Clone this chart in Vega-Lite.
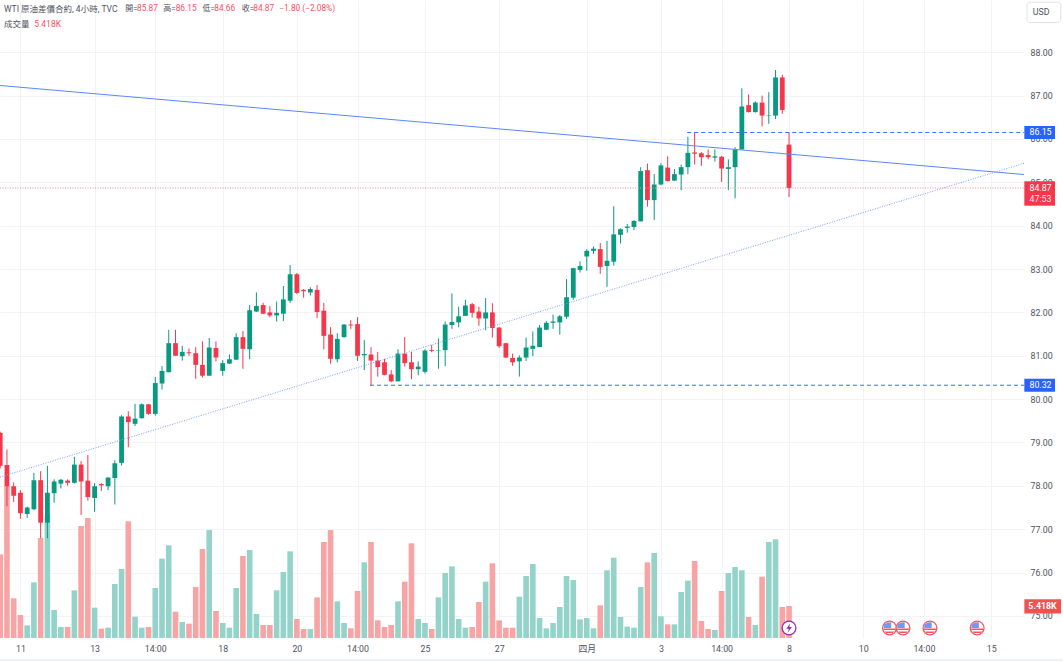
{"$schema":"https://vega.github.io/schema/vega-lite/v6.json","width":1024,"height":638,"autosize":{"type":"none"},"padding":{"left":0,"top":0,"right":39,"bottom":23},"background":"#ffffff","config":{"view":{"stroke":null},"scale":{"continuousPadding":0},"text":{"font":"Roboto, 'Noto Sans CJK TC'"}},
"data":{"values":[{}]},
"datasets":{"bars":[
{"i":0,"open":79.22,"high":79.25,"low":78.40,"close":78.46,"volume":14.16},
{"i":1,"open":78.48,"high":78.84,"low":77.53,"close":77.99,"volume":25.73},
{"i":2,"open":77.99,"high":78.08,"low":77.63,"close":77.77,"volume":6.72},
{"i":3,"open":77.84,"high":77.90,"low":77.24,"close":77.37,"volume":3.89},
{"i":4,"open":77.35,"high":77.52,"low":77.26,"close":77.50,"volume":2.14},
{"i":5,"open":77.46,"high":78.30,"low":77.44,"close":78.13,"volume":9.42},
{"i":6,"open":78.13,"high":78.34,"low":76.79,"close":77.15,"volume":16.93},
{"i":7,"open":77.15,"high":78.46,"low":76.79,"close":77.84,"volume":20.82},
{"i":8,"open":77.83,"high":78.15,"low":77.61,"close":78.10,"volume":4.74},
{"i":9,"open":78.05,"high":78.16,"low":77.94,"close":78.14,"volume":1.86},
{"i":10,"open":78.12,"high":78.15,"low":78.00,"close":78.07,"volume":1.86},
{"i":11,"open":78.07,"high":78.67,"low":78.05,"close":78.49,"volume":8.07},
{"i":12,"open":78.49,"high":78.57,"low":77.33,"close":78.10,"volume":18.96},
{"i":13,"open":78.12,"high":78.71,"low":77.66,"close":77.74,"volume":20.32},
{"i":14,"open":77.72,"high":78.06,"low":77.40,"close":77.99,"volume":5.14},
{"i":15,"open":78.04,"high":78.06,"low":77.88,"close":78.01,"volume":1.58},
{"i":16,"open":77.99,"high":78.20,"low":77.90,"close":78.19,"volume":1.75},
{"i":17,"open":78.18,"high":78.59,"low":77.57,"close":78.52,"volume":9.14},
{"i":18,"open":78.53,"high":79.63,"low":78.47,"close":79.60,"volume":11.68},
{"i":19,"open":79.60,"high":79.72,"low":78.89,"close":79.47,"volume":19.75},
{"i":20,"open":79.43,"high":79.89,"low":79.38,"close":79.55,"volume":3.61},
{"i":21,"open":79.56,"high":79.90,"low":79.55,"close":79.88,"volume":1.75},
{"i":22,"open":79.88,"high":79.89,"low":79.64,"close":79.66,"volume":1.86},
{"i":23,"open":79.66,"high":80.51,"low":79.62,"close":80.37,"volume":8.47},
{"i":24,"open":80.36,"high":80.76,"low":80.22,"close":80.65,"volume":13.43},
{"i":25,"open":80.62,"high":81.60,"low":80.62,"close":81.29,"volume":15.69},
{"i":26,"open":81.29,"high":81.60,"low":81.00,"close":81.00,"volume":4.46},
{"i":27,"open":80.99,"high":81.23,"low":80.89,"close":81.09,"volume":2.71},
{"i":28,"open":81.08,"high":81.17,"low":81.00,"close":81.06,"volume":2.43},
{"i":29,"open":81.06,"high":81.20,"low":80.47,"close":80.79,"volume":8.63},
{"i":30,"open":80.79,"high":81.33,"low":80.50,"close":80.54,"volume":15.07},
{"i":31,"open":80.54,"high":81.41,"low":80.54,"close":81.19,"volume":18.28},
{"i":32,"open":81.18,"high":81.33,"low":80.87,"close":80.96,"volume":4.57},
{"i":33,"open":80.65,"high":80.90,"low":80.54,"close":80.83,"volume":2.54},
{"i":34,"open":80.82,"high":81.03,"low":80.81,"close":80.92,"volume":1.75},
{"i":35,"open":80.91,"high":81.52,"low":80.90,"close":81.43,"volume":8.47},
{"i":36,"open":81.43,"high":81.57,"low":80.70,"close":81.16,"volume":13.88},
{"i":37,"open":81.15,"high":82.17,"low":80.92,"close":82.05,"volume":14.90},
{"i":38,"open":82.02,"high":82.46,"low":82.01,"close":82.15,"volume":4.06},
{"i":39,"open":82.17,"high":82.22,"low":81.96,"close":81.97,"volume":2.20},
{"i":40,"open":82.00,"high":82.15,"low":81.89,"close":81.93,"volume":2.20},
{"i":41,"open":81.93,"high":82.25,"low":81.79,"close":81.99,"volume":8.07},
{"i":42,"open":81.97,"high":82.61,"low":81.80,"close":82.30,"volume":11.17},
{"i":43,"open":82.27,"high":83.09,"low":82.22,"close":82.88,"volume":14.67},
{"i":44,"open":82.88,"high":82.91,"low":82.42,"close":82.45,"volume":3.22},
{"i":45,"open":82.52,"high":82.54,"low":82.34,"close":82.49,"volume":1.52},
{"i":46,"open":82.46,"high":82.58,"low":82.39,"close":82.54,"volume":1.52},
{"i":47,"open":82.52,"high":82.63,"low":81.87,"close":82.01,"volume":6.88},
{"i":48,"open":82.04,"high":82.22,"low":81.15,"close":81.46,"volume":16.25},
{"i":49,"open":81.49,"high":81.66,"low":80.82,"close":80.93,"volume":18.28},
{"i":50,"open":80.92,"high":81.52,"low":80.85,"close":81.39,"volume":6.21},
{"i":51,"open":81.43,"high":81.73,"low":81.42,"close":81.72,"volume":2.54},
{"i":52,"open":81.72,"high":81.82,"low":81.62,"close":81.70,"volume":1.64},
{"i":53,"open":81.73,"high":81.89,"low":80.88,"close":81.00,"volume":7.96},
{"i":54,"open":81.01,"high":81.36,"low":80.67,"close":81.04,"volume":12.81},
{"i":55,"open":81.03,"high":81.20,"low":80.31,"close":80.89,"volume":16.25},
{"i":56,"open":80.89,"high":81.09,"low":80.52,"close":80.74,"volume":2.99},
{"i":57,"open":80.85,"high":80.93,"low":80.55,"close":80.56,"volume":1.86},
{"i":58,"open":80.57,"high":80.67,"low":80.39,"close":80.41,"volume":2.20},
{"i":59,"open":80.41,"high":81.15,"low":80.41,"close":81.05,"volume":6.21},
{"i":60,"open":81.05,"high":81.43,"low":80.75,"close":80.83,"volume":9.54},
{"i":61,"open":80.85,"high":81.09,"low":80.46,"close":80.69,"volume":16.03},
{"i":62,"open":80.69,"high":80.87,"low":80.55,"close":80.75,"volume":3.22},
{"i":63,"open":80.63,"high":81.15,"low":80.59,"close":81.12,"volume":2.54},
{"i":64,"open":81.13,"high":81.25,"low":81.08,"close":81.11,"volume":1.52},
{"i":65,"open":81.12,"high":81.40,"low":80.70,"close":81.13,"volume":6.88},
{"i":66,"open":81.13,"high":81.79,"low":80.76,"close":81.72,"volume":11.00},
{"i":67,"open":81.71,"high":82.44,"low":81.62,"close":81.78,"volume":12.13},
{"i":68,"open":81.77,"high":82.13,"low":81.66,"close":81.91,"volume":3.22},
{"i":69,"open":81.92,"high":82.29,"low":81.92,"close":82.16,"volume":1.75},
{"i":70,"open":82.19,"high":82.22,"low":81.88,"close":81.99,"volume":1.86},
{"i":71,"open":82.02,"high":82.13,"low":81.69,"close":81.86,"volume":6.09},
{"i":72,"open":81.86,"high":82.33,"low":81.59,"close":82.00,"volume":9.54},
{"i":73,"open":82.00,"high":82.21,"low":81.42,"close":81.64,"volume":12.64},
{"i":74,"open":81.65,"high":81.66,"low":81.18,"close":81.22,"volume":2.99},
{"i":75,"open":81.29,"high":81.30,"low":80.95,"close":80.96,"volume":1.75},
{"i":76,"open":80.95,"high":81.05,"low":80.77,"close":80.85,"volume":1.75},
{"i":77,"open":80.87,"high":81.01,"low":80.52,"close":80.96,"volume":7.00},
{"i":78,"open":80.96,"high":81.42,"low":80.88,"close":81.19,"volume":10.50},
{"i":79,"open":81.16,"high":81.56,"low":80.99,"close":81.23,"volume":12.53},
{"i":80,"open":81.20,"high":81.71,"low":81.20,"close":81.65,"volume":3.39},
{"i":81,"open":81.60,"high":81.80,"low":81.59,"close":81.76,"volume":1.64},
{"i":82,"open":81.76,"high":81.95,"low":81.62,"close":81.79,"volume":2.54},
{"i":83,"open":81.77,"high":81.94,"low":81.49,"close":81.91,"volume":5.25},
{"i":84,"open":81.90,"high":82.77,"low":81.85,"close":82.35,"volume":10.50},
{"i":85,"open":82.34,"high":83.03,"low":82.29,"close":83.02,"volume":9.82},
{"i":86,"open":82.98,"high":83.18,"low":82.92,"close":83.07,"volume":3.16},
{"i":87,"open":83.29,"high":83.46,"low":82.96,"close":83.42,"volume":3.39},
{"i":88,"open":83.42,"high":83.52,"low":83.35,"close":83.47,"volume":1.64},
{"i":89,"open":83.46,"high":83.60,"low":82.89,"close":83.05,"volume":5.53},
{"i":90,"open":83.07,"high":83.65,"low":82.59,"close":83.19,"volume":11.46},
{"i":91,"open":83.17,"high":84.45,"low":83.08,"close":83.80,"volume":13.60},
{"i":92,"open":83.79,"high":83.94,"low":83.59,"close":83.92,"volume":3.56},
{"i":93,"open":83.95,"high":84.04,"low":83.84,"close":83.98,"volume":1.92},
{"i":94,"open":83.97,"high":84.13,"low":83.90,"close":84.11,"volume":1.75},
{"i":95,"open":84.10,"high":85.35,"low":84.10,"close":85.26,"volume":8.63},
{"i":96,"open":85.28,"high":85.43,"low":84.44,"close":84.59,"volume":12.81},
{"i":97,"open":84.59,"high":85.19,"low":84.13,"close":84.95,"volume":14.39},
{"i":98,"open":84.95,"high":85.44,"low":84.93,"close":85.39,"volume":3.67},
{"i":99,"open":85.34,"high":85.60,"low":85.02,"close":85.03,"volume":2.31},
{"i":100,"open":85.04,"high":85.31,"low":85.03,"close":85.19,"volume":2.31},
{"i":101,"open":85.18,"high":85.41,"low":84.82,"close":85.35,"volume":7.79},
{"i":102,"open":85.35,"high":86.05,"low":85.19,"close":85.68,"volume":9.71},
{"i":103,"open":85.69,"high":86.15,"low":85.41,"close":85.66,"volume":13.04},
{"i":104,"open":85.67,"high":85.70,"low":85.38,"close":85.58,"volume":2.88},
{"i":105,"open":85.63,"high":85.76,"low":85.53,"close":85.58,"volume":1.52},
{"i":106,"open":85.57,"high":85.76,"low":85.48,"close":85.60,"volume":1.35},
{"i":107,"open":85.59,"high":85.61,"low":85.01,"close":85.32,"volume":7.96},
{"i":108,"open":85.31,"high":85.53,"low":84.82,"close":85.35,"volume":11.00},
{"i":109,"open":85.35,"high":85.81,"low":84.63,"close":85.76,"volume":12.02},
{"i":110,"open":85.76,"high":87.17,"low":85.76,"close":86.75,"volume":11.46},
{"i":111,"open":86.78,"high":87.03,"low":86.61,"close":86.62,"volume":3.56},
{"i":112,"open":86.62,"high":86.87,"low":86.61,"close":86.84,"volume":2.20},
{"i":113,"open":86.84,"high":87.00,"low":86.29,"close":86.54,"volume":10.38},
{"i":114,"open":86.54,"high":87.08,"low":86.35,"close":86.55,"volume":16.25},
{"i":115,"open":86.54,"high":87.59,"low":86.46,"close":87.42,"volume":16.70},
{"i":116,"open":87.42,"high":87.48,"low":86.58,"close":86.67,"volume":5.25},
{"i":117,"open":85.87,"high":86.15,"low":84.66,"close":84.87,"volume":5.418}
],
"resistance":[{"i":-0.03,"price":87.234},{"i":151.85,"price":85.18}],
"support":[{"i":-0.03,"price":78.20},{"i":151.85,"price":85.44}],
"levels":[{"i":101.9,"price":86.15},{"i":54.85,"price":80.32}],
"levelTags":[{"price":86.15,"label":"86.15"},{"price":80.32,"label":"80.32"}],
"usEvents":[{"i":131.9},{"i":133.9},{"i":137.9},{"i":144.9}],
"splitEvents":[{"i":117}]},
"resolve":{"scale":{"y":"independent"},"axis":{"x":"independent","y":"independent"}},
"layer":[
{"data":{"name":"bars"},"mark":{"type":"bar","size":5.6},
"encoding":{"x":{"field":"i","type":"quantitative","scale":{"domain":[-0.03,151.85],"nice":false,"zero":false},
"axis":{"orient":"bottom","title":null,"values":[3,14,23,33,44,53,63,74,87,98,107,117,128,137,147],"labelExpr":"{'3':'11','14':'13','23':'14:00','33':'18','44':'20','53':'14:00','63':'25','74':'27','87':'四月','98':'3','107':'14:00','117':'8','128':'10','137':'14:00','147':'15'}[datum.value]","grid":true,"gridColor":"#f2f3f6","gridWidth":1,"domain":false,"ticks":false,"labelPadding":6,"labelFontSize":8.8,"labelColor":"#50535e","labelFont":"Roboto, 'Noto Sans CJK TC'","labelOverlap":false,"labelFlush":false}},
"y":{"field":"volume","type":"quantitative","scale":{"domain":[0,108.03],"nice":false},"axis":null},
"color":{"condition":{"test":"datum.close>=datum.open","value":"#93d3c9"},"value":"#f8a3a4"}}},
{"resolve":{"axis":{"x":"independent","y":"independent"}},"layer":[
{"data":{"name":"bars"},"mark":{"type":"rule","strokeWidth":1},
"encoding":{"x":{"field":"i","type":"quantitative","scale":{"domain":[-0.03,151.85],"nice":false,"zero":false},"axis":null},
"y":{"field":"low","type":"quantitative","scale":{"domain":[74.49,89.206],"nice":false,"zero":false},
"axis":{"orient":"right","title":null,"values":[75,76,77,78,79,80,81,82,83,84,85,86,87,88],"format":".2f","grid":true,"gridColor":"#f2f3f6","gridWidth":1,"domain":false,"ticks":false,"labelPadding":6,"labelFontSize":8.8,"labelColor":"#50535e","labelFont":"Roboto"}},
"y2":{"field":"high"},
"color":{"condition":{"test":"datum.close>=datum.open","value":"#089981"},"value":"#f5364b"}}},
{"data":{"name":"bars"},"mark":{"type":"bar","size":4.8},
"encoding":{"x":{"field":"i","type":"quantitative","scale":{"domain":[-0.03,151.85],"nice":false,"zero":false},"axis":null},
"y":{"field":"open","type":"quantitative","scale":{"domain":[74.49,89.206],"nice":false,"zero":false},"axis":null},"y2":{"field":"close"},
"color":{"condition":{"test":"datum.close>=datum.open","value":"#089981"},"value":"#f5364b"}}},
{"data":{"name":"resistance"},"mark":{"type":"line","stroke":"#5b86ff","strokeWidth":1},
"encoding":{"x":{"field":"i","type":"quantitative","scale":{"domain":[-0.03,151.85],"nice":false,"zero":false},"axis":null},"y":{"field":"price","type":"quantitative","scale":{"domain":[74.49,89.206],"nice":false,"zero":false},"axis":null}}},
{"data":{"name":"support"},"mark":{"type":"line","stroke":"#7a9dff","strokeWidth":1,"strokeDash":[1,1.5]},
"encoding":{"x":{"field":"i","type":"quantitative","scale":{"domain":[-0.03,151.85],"nice":false,"zero":false},"axis":null},"y":{"field":"price","type":"quantitative","scale":{"domain":[74.49,89.206],"nice":false,"zero":false},"axis":null}}},
{"data":{"name":"levels"},"mark":{"type":"rule","stroke":"#3d6fff","strokeWidth":1,"strokeDash":[4,3]},
"encoding":{"x":{"field":"i","type":"quantitative","scale":{"domain":[-0.03,151.85],"nice":false,"zero":false},"axis":null},"x2":{"datum":151.85},"y":{"field":"price","type":"quantitative","scale":{"domain":[74.49,89.206],"nice":false,"zero":false},"axis":null}}},
{"mark":{"type":"rule","stroke":"#f58a95","strokeWidth":1,"strokeDash":[1,1.5]},
"encoding":{"x":{"datum":-0.03,"type":"quantitative","scale":{"domain":[-0.03,151.85],"nice":false,"zero":false},"axis":null},"x2":{"datum":151.85},"y":{"datum":84.87,"type":"quantitative","scale":{"domain":[74.49,89.206],"nice":false,"zero":false},"axis":null}}},
{"data":{"name":"levelTags"},"mark":{"type":"bar","orient":"horizontal","size":13,"fill":"#2962ff"},
"encoding":{"x":{"datum":151.9,"type":"quantitative","scale":{"domain":[-0.03,151.85],"nice":false,"zero":false},"axis":null},"x2":{"datum":156.45},"y":{"field":"price","type":"quantitative","scale":{"domain":[74.49,89.206],"nice":false,"zero":false},"axis":null}}},
{"data":{"name":"levelTags"},"mark":{"type":"text","color":"#ffffff","fontSize":8.8,"baseline":"middle"},
"encoding":{"x":{"datum":154.3,"type":"quantitative","scale":{"domain":[-0.03,151.85],"nice":false,"zero":false},"axis":null},"y":{"field":"price","type":"quantitative","scale":{"domain":[74.49,89.206],"nice":false,"zero":false},"axis":null},"text":{"field":"label"}}},
{"mark":{"type":"bar","orient":"horizontal","size":24.4,"fill":"#f5364b","yOffset":5.5},
"encoding":{"x":{"datum":151.9,"type":"quantitative","scale":{"domain":[-0.03,151.85],"nice":false,"zero":false},"axis":null},"x2":{"datum":156.45},"y":{"datum":84.87,"type":"quantitative","scale":{"domain":[74.49,89.206],"nice":false,"zero":false},"axis":null}}},
{"mark":{"type":"text","color":"#ffffff","fontSize":8.8,"baseline":"middle","text":"84.87"},
"encoding":{"x":{"datum":154.3,"type":"quantitative","scale":{"domain":[-0.03,151.85],"nice":false,"zero":false},"axis":null},"y":{"datum":84.87,"type":"quantitative","scale":{"domain":[74.49,89.206],"nice":false,"zero":false},"axis":null}}},
{"mark":{"type":"text","color":"#fde3e6","fontSize":8.8,"baseline":"middle","text":"47:53","dy":11.5},
"encoding":{"x":{"datum":154.3,"type":"quantitative","scale":{"domain":[-0.03,151.85],"nice":false,"zero":false},"axis":null},"y":{"datum":84.87,"type":"quantitative","scale":{"domain":[74.49,89.206],"nice":false,"zero":false},"axis":null}}},
{"mark":{"type":"bar","orient":"horizontal","size":14.3,"fill":"#ef5350"},
"encoding":{"x":{"datum":151.9,"type":"quantitative","scale":{"domain":[-0.03,151.85],"nice":false,"zero":false},"axis":null},"x2":{"datum":157.35},"y":{"datum":75.22,"type":"quantitative","scale":{"domain":[74.49,89.206],"nice":false,"zero":false},"axis":null}}},
{"mark":{"type":"text","color":"#ffffff","fontSize":8.8,"baseline":"middle","fontWeight":"bold","text":"5.418K"},
"encoding":{"x":{"datum":154.6,"type":"quantitative","scale":{"domain":[-0.03,151.85],"nice":false,"zero":false},"axis":null},"y":{"datum":75.22,"type":"quantitative","scale":{"domain":[74.49,89.206],"nice":false,"zero":false},"axis":null}}},
{"mark":{"type":"bar","size":20.3,"orient":"horizontal","fill":"#ffffff","stroke":"#e0e3eb","strokeWidth":1,"cornerRadius":3},
"encoding":{"x":{"datum":152.3,"type":"quantitative","scale":{"domain":[-0.03,151.85],"nice":false,"zero":false},"axis":null},"x2":{"datum":157.3},"y":{"datum":88.92,"type":"quantitative","scale":{"domain":[74.49,89.206],"nice":false,"zero":false},"axis":null}}},
{"mark":{"type":"text","color":"#50535e","fontSize":8.8,"baseline":"middle","text":"USD"},
"encoding":{"x":{"datum":154.4,"type":"quantitative","scale":{"domain":[-0.03,151.85],"nice":false,"zero":false},"axis":null},"y":{"datum":88.92,"type":"quantitative","scale":{"domain":[74.49,89.206],"nice":false,"zero":false},"axis":null}}},
{"data":{"name":"usEvents"},"mark":{"type":"point","shape":"circle","size":190,"filled":true,"fill":"#ffffff","stroke":"#f7525f","strokeWidth":1.3,"opacity":1},
"encoding":{"x":{"field":"i","type":"quantitative","scale":{"domain":[-0.03,151.85],"nice":false,"zero":false},"axis":null},"y":{"datum":74.72,"type":"quantitative","scale":{"domain":[74.49,89.206],"nice":false,"zero":false},"axis":null}}},
{"data":{"name":"usEvents"},"mark":{"type":"point","shape":"M-0.8,-0.5 L-0.3,-0.8 L0.25,-0.85 L0.25,0 L-0.85,0 Z","size":190,"filled":true,"fill":"#6c9bf0","opacity":1},
"encoding":{"x":{"field":"i","type":"quantitative","scale":{"domain":[-0.03,151.85],"nice":false,"zero":false},"axis":null},"y":{"datum":74.72,"type":"quantitative","scale":{"domain":[74.49,89.206],"nice":false,"zero":false},"axis":null}}},
{"data":{"name":"usEvents"},"mark":{"type":"point","shape":"M-0.85,0.08 L0.85,0.08 L0.85,0.28 L-0.85,0.28 Z M-0.68,0.52 L0.68,0.52 L0.5,0.72 L-0.5,0.72 Z","size":190,"filled":true,"fill":"#f7525f","opacity":1},
"encoding":{"x":{"field":"i","type":"quantitative","scale":{"domain":[-0.03,151.85],"nice":false,"zero":false},"axis":null},"y":{"datum":74.72,"type":"quantitative","scale":{"domain":[74.49,89.206],"nice":false,"zero":false},"axis":null}}},
{"data":{"name":"splitEvents"},"mark":{"type":"point","shape":"circle","size":190,"filled":true,"fill":"#ffffff","stroke":"#9c27b0","strokeWidth":1.3,"opacity":1},
"encoding":{"x":{"field":"i","type":"quantitative","scale":{"domain":[-0.03,151.85],"nice":false,"zero":false},"axis":null},"y":{"datum":74.72,"type":"quantitative","scale":{"domain":[74.49,89.206],"nice":false,"zero":false},"axis":null}}},
{"data":{"name":"splitEvents"},"mark":{"type":"point","shape":"M0.15,-0.65 L-0.4,0.1 L-0.05,0.1 L-0.15,0.65 L0.4,-0.15 L0.05,-0.15 Z","size":190,"filled":true,"fill":"#9c27b0","opacity":1},
"encoding":{"x":{"field":"i","type":"quantitative","scale":{"domain":[-0.03,151.85],"nice":false,"zero":false},"axis":null},"y":{"datum":74.72,"type":"quantitative","scale":{"domain":[74.49,89.206],"nice":false,"zero":false},"axis":null}}},
{"mark":{"type":"text","align":"left","baseline":"middle","fontSize":8.5,"color":"#50535e","text":"WTI 原油差價合約, 4小時, TVC"},
"encoding":{"x":{"datum":0.56,"type":"quantitative","scale":{"domain":[-0.03,151.85],"nice":false,"zero":false},"axis":null},"y":{"datum":89,"type":"quantitative","scale":{"domain":[74.49,89.206],"nice":false,"zero":false},"axis":null}}},
{"mark":{"type":"text","align":"left","baseline":"middle","fontSize":8,"color":"#50535e","text":"開="},
"encoding":{"x":{"datum":18.54,"type":"quantitative","scale":{"domain":[-0.03,151.85],"nice":false,"zero":false},"axis":null},"y":{"datum":89,"type":"quantitative","scale":{"domain":[74.49,89.206],"nice":false,"zero":false},"axis":null}}},
{"mark":{"type":"text","align":"left","baseline":"middle","fontSize":8.3,"color":"#f7525f","text":"85.87"},
"encoding":{"x":{"datum":20.29,"type":"quantitative","scale":{"domain":[-0.03,151.85],"nice":false,"zero":false},"axis":null},"y":{"datum":89,"type":"quantitative","scale":{"domain":[74.49,89.206],"nice":false,"zero":false},"axis":null}}},
{"mark":{"type":"text","align":"left","baseline":"middle","fontSize":8,"color":"#50535e","text":"高="},
"encoding":{"x":{"datum":24.2,"type":"quantitative","scale":{"domain":[-0.03,151.85],"nice":false,"zero":false},"axis":null},"y":{"datum":89,"type":"quantitative","scale":{"domain":[74.49,89.206],"nice":false,"zero":false},"axis":null}}},
{"mark":{"type":"text","align":"left","baseline":"middle","fontSize":8.3,"color":"#f7525f","text":"86.15"},
"encoding":{"x":{"datum":26.03,"type":"quantitative","scale":{"domain":[-0.03,151.85],"nice":false,"zero":false},"axis":null},"y":{"datum":89,"type":"quantitative","scale":{"domain":[74.49,89.206],"nice":false,"zero":false},"axis":null}}},
{"mark":{"type":"text","align":"left","baseline":"middle","fontSize":8,"color":"#50535e","text":"低="},
"encoding":{"x":{"datum":30,"type":"quantitative","scale":{"domain":[-0.03,151.85],"nice":false,"zero":false},"axis":null},"y":{"datum":89,"type":"quantitative","scale":{"domain":[74.49,89.206],"nice":false,"zero":false},"axis":null}}},
{"mark":{"type":"text","align":"left","baseline":"middle","fontSize":8.3,"color":"#f7525f","text":"84.66"},
"encoding":{"x":{"datum":31.76,"type":"quantitative","scale":{"domain":[-0.03,151.85],"nice":false,"zero":false},"axis":null},"y":{"datum":89,"type":"quantitative","scale":{"domain":[74.49,89.206],"nice":false,"zero":false},"axis":null}}},
{"mark":{"type":"text","align":"left","baseline":"middle","fontSize":8,"color":"#50535e","text":"收="},
"encoding":{"x":{"datum":35.82,"type":"quantitative","scale":{"domain":[-0.03,151.85],"nice":false,"zero":false},"axis":null},"y":{"datum":89,"type":"quantitative","scale":{"domain":[74.49,89.206],"nice":false,"zero":false},"axis":null}}},
{"mark":{"type":"text","align":"left","baseline":"middle","fontSize":8.3,"color":"#f7525f","text":"84.87"},
"encoding":{"x":{"datum":37.54,"type":"quantitative","scale":{"domain":[-0.03,151.85],"nice":false,"zero":false},"axis":null},"y":{"datum":89,"type":"quantitative","scale":{"domain":[74.49,89.206],"nice":false,"zero":false},"axis":null}}},
{"mark":{"type":"text","align":"left","baseline":"middle","fontSize":8.3,"color":"#f7525f","text":"−1.80 (−2.08%)"},
"encoding":{"x":{"datum":41.4,"type":"quantitative","scale":{"domain":[-0.03,151.85],"nice":false,"zero":false},"axis":null},"y":{"datum":89,"type":"quantitative","scale":{"domain":[74.49,89.206],"nice":false,"zero":false},"axis":null}}},
{"mark":{"type":"text","align":"left","baseline":"middle","fontSize":8.5,"color":"#50535e","text":"成交量"},
"encoding":{"x":{"datum":0.56,"type":"quantitative","scale":{"domain":[-0.03,151.85],"nice":false,"zero":false},"axis":null},"y":{"datum":88.653,"type":"quantitative","scale":{"domain":[74.49,89.206],"nice":false,"zero":false},"axis":null}}},
{"mark":{"type":"text","align":"left","baseline":"middle","fontSize":8.5,"color":"#f7525f","text":"5.418K"},
"encoding":{"x":{"datum":5.06,"type":"quantitative","scale":{"domain":[-0.03,151.85],"nice":false,"zero":false},"axis":null},"y":{"datum":88.653,"type":"quantitative","scale":{"domain":[74.49,89.206],"nice":false,"zero":false},"axis":null}}},
{"mark":{"type":"bar","orient":"horizontal","size":2,"fill":"#eef0f5"},
"encoding":{"x":{"datum":-0.03,"type":"quantitative","scale":{"domain":[-0.03,151.85],"nice":false,"zero":false},"axis":null},"x2":{"datum":157.7},"y":{"datum":73.98,"type":"quantitative","scale":{"domain":[74.49,89.206],"nice":false,"zero":false},"axis":null}}}
]}
]}
